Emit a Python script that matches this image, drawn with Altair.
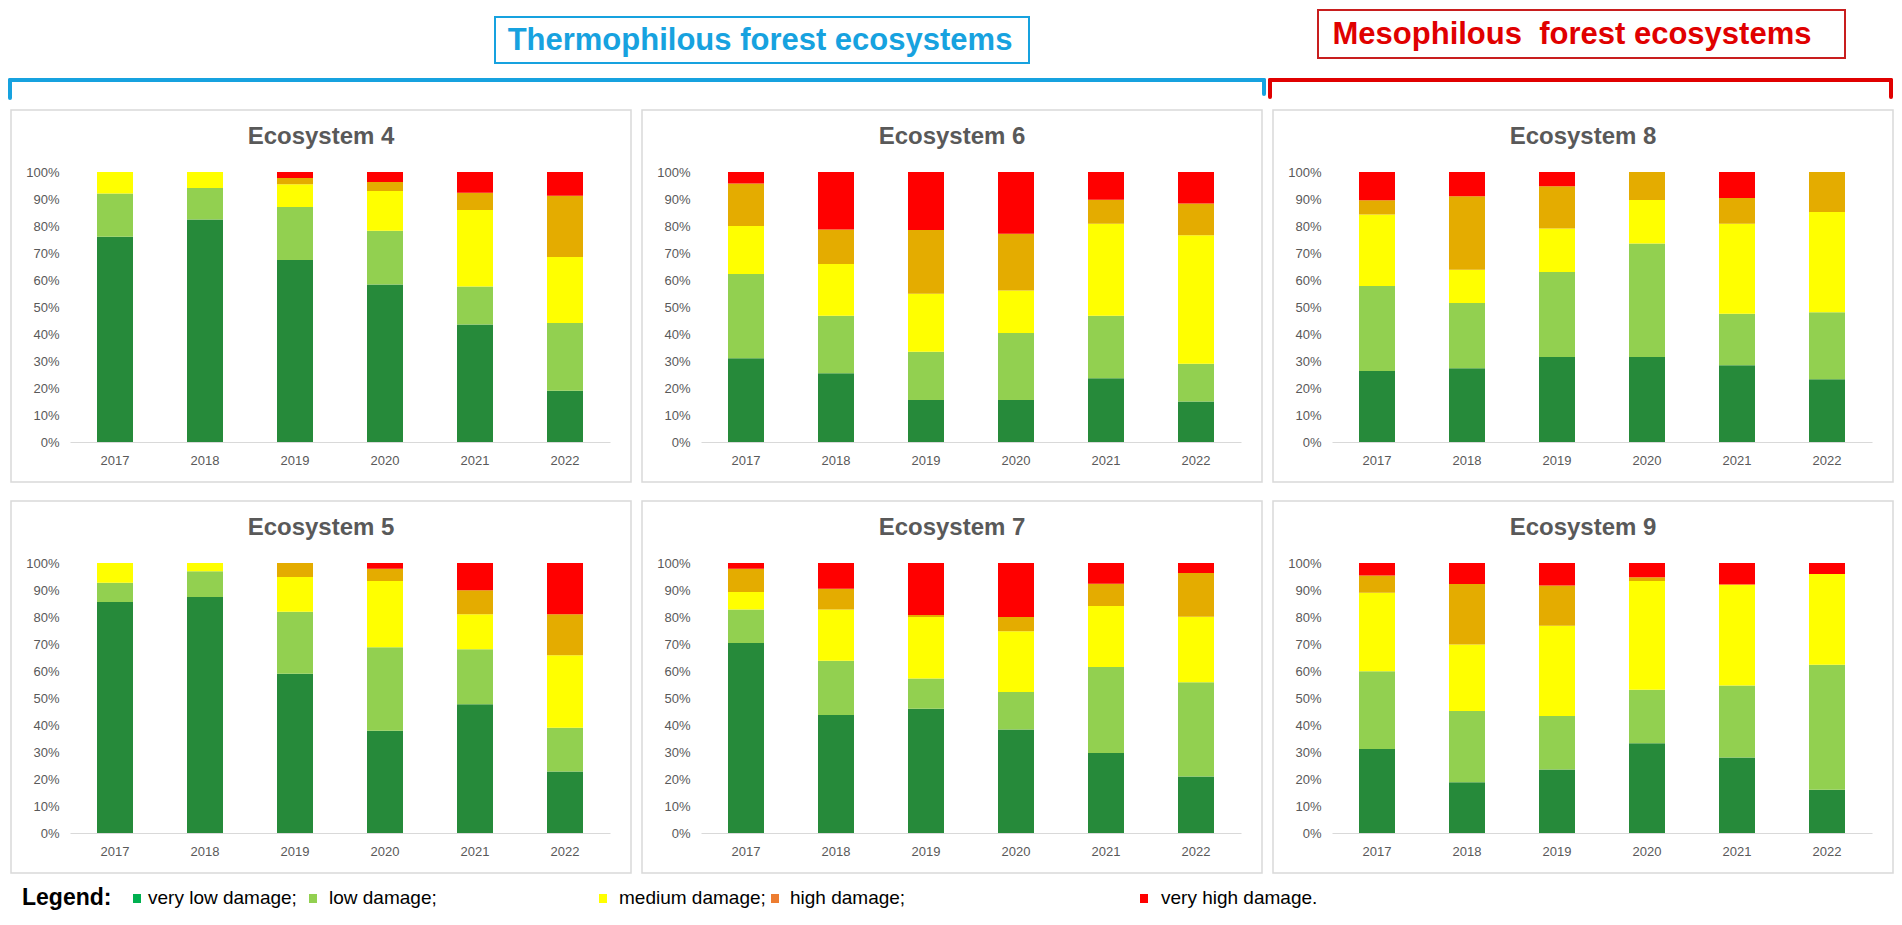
import altair as alt
import pandas as pd

years = ["2017", "2018", "2019", "2020", "2021", "2022"]
categories = ["very low damage", "low damage", "medium damage", "high damage", "very high damage"]
bar_colors = ["#268A3A", "#92D050", "#FFFF00", "#E4AC00", "#FF0000"]
ecosystems = ["Ecosystem 4", "Ecosystem 6", "Ecosystem 8", "Ecosystem 5", "Ecosystem 7", "Ecosystem 9"]

# values in %, order: very low, low, medium, high, very high
eco4_very_low = [76.0, 82.4, 67.4, 58.3, 43.5, 19.0]
eco4_low = [16.0, 11.7, 19.6, 19.9, 14.1, 25.1]
eco4_medium = [8.0, 5.9, 8.5, 14.8, 28.3, 24.4]
eco4_high = [0.0, 0.0, 2.3, 3.3, 6.4, 22.7]
eco4_very_high = [0.0, 0.0, 2.2, 3.7, 7.7, 8.8]

eco6_very_low = [31.0, 25.5, 15.6, 15.6, 23.6, 15.0]
eco6_low = [31.2, 21.3, 17.8, 24.8, 23.2, 14.0]
eco6_medium = [17.8, 19.1, 21.5, 15.7, 34.0, 47.6]
eco6_high = [15.7, 12.8, 23.6, 21.0, 8.9, 11.7]
eco6_very_high = [4.3, 21.3, 21.5, 22.9, 10.3, 11.7]

eco8_very_low = [26.3, 27.3, 31.5, 31.5, 28.4, 23.2]
eco8_low = [31.5, 24.2, 31.5, 42.0, 19.1, 24.9]
eco8_medium = [26.5, 12.3, 16.1, 16.1, 33.3, 37.1]
eco8_high = [5.2, 27.2, 15.6, 10.4, 9.6, 14.8]
eco8_very_high = [10.5, 9.0, 5.3, 0.0, 9.6, 0.0]

eco5_very_low = [85.6, 87.4, 59.0, 37.9, 47.7, 22.8]
eco5_low = [7.1, 9.5, 22.9, 30.9, 20.4, 16.2]
eco5_medium = [7.3, 3.1, 12.9, 24.5, 12.9, 26.8]
eco5_high = [0.0, 0.0, 5.2, 4.6, 8.9, 15.2]
eco5_very_high = [0.0, 0.0, 0.0, 2.1, 10.1, 19.0]

eco7_very_low = [70.4, 43.7, 46.0, 38.3, 29.6, 20.9]
eco7_low = [12.4, 20.1, 11.2, 13.9, 31.9, 34.9]
eco7_medium = [6.5, 19.0, 22.8, 22.5, 22.6, 24.3]
eco7_high = [8.6, 7.7, 0.7, 5.3, 8.2, 16.2]
eco7_very_high = [2.1, 9.5, 19.3, 20.0, 7.7, 3.7]

eco9_very_low = [31.1, 18.8, 23.5, 33.2, 28.0, 16.0]
eco9_low = [28.8, 26.4, 19.8, 19.9, 26.6, 46.3]
eco9_medium = [29.1, 24.6, 33.5, 40.2, 37.4, 33.6]
eco9_high = [6.4, 22.4, 14.9, 1.4, 0.0, 0.0]
eco9_very_high = [4.6, 7.8, 8.3, 5.3, 8.0, 4.1]

series = {
    "Ecosystem 4": [eco4_very_low, eco4_low, eco4_medium, eco4_high, eco4_very_high],
    "Ecosystem 6": [eco6_very_low, eco6_low, eco6_medium, eco6_high, eco6_very_high],
    "Ecosystem 8": [eco8_very_low, eco8_low, eco8_medium, eco8_high, eco8_very_high],
    "Ecosystem 5": [eco5_very_low, eco5_low, eco5_medium, eco5_high, eco5_very_high],
    "Ecosystem 7": [eco7_very_low, eco7_low, eco7_medium, eco7_high, eco7_very_high],
    "Ecosystem 9": [eco9_very_low, eco9_low, eco9_medium, eco9_high, eco9_very_high],
}

legend_labels = ["very low damage;", "low damage;", "medium damage;", "high damage;", "very high damage."]
legend_colors = ["#00B050", "#92D050", "#FFFF00", "#ED7D31", "#FF0000"]

rows = []
for eco in ecosystems:
    for k, cat in enumerate(categories):
        for i, y in enumerate(years):
            rows.append({"eco": eco, "year": y, "cat": cat, "idx": k, "value": series[eco][k][i]})
df = pd.DataFrame(rows)

FONT = "Liberation Sans"
GRAY = "#595959"
PW, PH = 540, 270


def make_panel(eco):
    base = alt.Chart(df).transform_filter(alt.datum.eco == eco)
    one = base.transform_filter("datum.idx == 0 && datum.year == '2017'")
    border = one.mark_rect(fillOpacity=0, stroke="#D9D9D9", strokeWidth=1.5).encode(
        x=alt.value(-59), x2=alt.value(561), y=alt.value(-62), y2=alt.value(310))
    anchor = one.mark_rect(opacity=0).encode(
        x=alt.value(-62), x2=alt.value(-61), y=alt.value(0), y2=alt.value(1))
    title = one.mark_text(
        font=FONT, fontSize=24, fontWeight="bold", color=GRAY, align="center", baseline="middle"
    ).encode(text="eco:N", x=alt.value(251), y=alt.value(-35))
    bars = base.mark_bar().encode(
        x=alt.X(
            "year:N", sort=years,
            scale=alt.Scale(paddingInner=0.6, paddingOuter=0.3),
            axis=alt.Axis(title=None, labelAngle=0, ticks=False, tickSize=0, grid=False,
                          domainColor="#D9D9D9", domainWidth=1, labelColor=GRAY,
                          labelFont=FONT, labelFontSize=13, labelPadding=12),
        ),
        y=alt.Y(
            "value:Q", stack="normalize",
            scale=alt.Scale(domain=[0, 1], nice=False),
            axis=alt.Axis(title=None, format=".0%", values=[i / 10 for i in range(11)],
                          grid=False, domain=False, ticks=False, tickSize=0,
                          labelColor=GRAY, labelFont=FONT, labelFontSize=13, labelPadding=11),
        ),
        color=alt.Color("cat:N", scale=alt.Scale(domain=categories, range=bar_colors), legend=None),
        order=alt.Order("idx:Q", sort="ascending"),
    )
    return alt.layer(border, anchor, title, bars).properties(width=PW, height=PH)


row1 = alt.hconcat(*[make_panel(e) for e in ecosystems[:3]], spacing=7)
row2 = alt.hconcat(*[make_panel(e) for e in ecosystems[3:]], spacing=7)
panels = alt.vconcat(row1, row2, spacing=17)

# ---- header (coordinates relative to the first panel's plot origin) ----
hd = pd.DataFrame({"a": [0]})
BLUE = "#17A2DF"
RED = "#E00000"

h_anchor = alt.Chart(hd).mark_rect(opacity=0).encode(
    x=alt.value(-62), x2=alt.value(1823), y=alt.value(0), y2=alt.value(101))
blue_box = alt.Chart(hd).mark_rect(fillOpacity=0, stroke=BLUE, strokeWidth=2).encode(
    x=alt.value(425), x2=alt.value(959), y=alt.value(9), y2=alt.value(55))
blue_text = alt.Chart(hd).mark_text(
    text="Thermophilous forest ecosystems", font=FONT, fontSize=31, fontWeight="bold",
    color=BLUE, align="center", baseline="middle").encode(x=alt.value(690), y=alt.value(33))
red_box = alt.Chart(hd).mark_rect(fillOpacity=0, stroke="#C81E1E", strokeWidth=2).encode(
    x=alt.value(1248), x2=alt.value(1775), y=alt.value(2), y2=alt.value(50))
red_text = alt.Chart(hd).mark_text(
    text="Mesophilous\u00a0 forest ecosystems", font=FONT, fontSize=31, fontWeight="bold",
    color=RED, align="center", baseline="middle").encode(x=alt.value(1502), y=alt.value(27))


def rule(color, x, x2=None, y=None, y2=None):
    enc = {"x": alt.value(x), "y": alt.value(y)}
    if x2 is not None:
        enc["x2"] = alt.value(x2)
    if y2 is not None:
        enc["y2"] = alt.value(y2)
    return alt.Chart(hd).mark_rule(color=color, strokeWidth=4, strokeCap="round").encode(**enc)


brackets = [
    rule(BLUE, -60, x2=1194, y=72),
    rule(BLUE, -60, y=72, y2=90),
    rule(BLUE, 1194, y=72, y2=86),
    rule(RED, 1200, x2=1821, y=72),
    rule(RED, 1200, y=72, y2=89),
    rule(RED, 1821, y=72, y2=89),
]

header = alt.layer(h_anchor, blue_box, blue_text, red_box, red_text, *brackets).properties(
    width=1750, height=101)

# ---- legend ----
LH = 44
l_anchor = alt.Chart(hd).mark_rect(opacity=0).encode(
    x=alt.value(-62), x2=alt.value(1823), y=alt.value(0), y2=alt.value(LH))
leg_word = alt.Chart(hd).mark_text(
    text="Legend:", font=FONT, fontSize=23, fontWeight="bold", color="#000000",
    align="left", baseline="middle").encode(x=alt.value(-48), y=alt.value(24))
sq_x = [67, 243, 533, 705, 1074]
tx_x = [78, 259, 549, 720, 1091]
leg_layers = [l_anchor, leg_word]
for lab, col, sx, tx in zip(legend_labels, legend_colors, sq_x, tx_x):
    leg_layers.append(alt.Chart(hd).mark_rect(color=col).encode(
        x=alt.value(sx - 4), x2=alt.value(sx + 4), y=alt.value(20), y2=alt.value(29)))
    leg_layers.append(alt.Chart(hd).mark_text(
        text=lab, font=FONT, fontSize=19, color="#000000", align="left", baseline="middle"
    ).encode(x=alt.value(tx), y=alt.value(24)))
legend = alt.layer(*leg_layers).properties(width=1750, height=LH)

chart = alt.vconcat(header, panels, legend, spacing=0).properties(
    padding=0, background="white"
).configure_view(stroke=None)

chart.save("out.html", embed_options={"renderer": "svg", "actions": False})
